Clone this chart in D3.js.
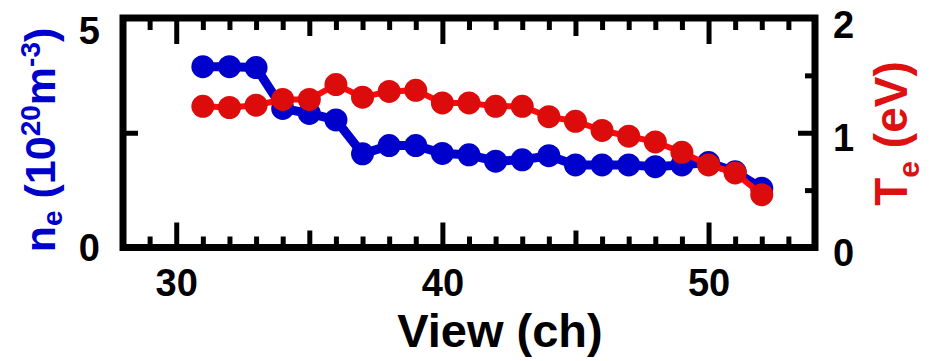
<!DOCTYPE html>
<html>
<head>
<meta charset="utf-8">
<script src="https://cdn.jsdelivr.net/npm/d3@7/dist/d3.min.js"></script>
<style>
  html, body { margin: 0; padding: 0; background: #fff; }
  svg { display: block; font-family: "Liberation Sans", Arial, sans-serif; font-weight: bold; }
</style>
</head>
<body>
<svg id="chart" width="930" height="361"></svg>
<script>
// Viewing channels
const channels = [31, 32, 33, 34, 35, 36, 37, 38, 39, 40, 41, 42, 43, 44, 45, 46, 47, 48, 49, 50, 51, 52];
// Electron density (10^20 m^-3)
const neValues = [3.94, 3.94, 3.92, 3.03, 2.92, 2.78, 2.04, 2.22, 2.22, 2.05, 2.02, 1.88, 1.91, 2.00, 1.80, 1.80, 1.80, 1.76, 1.80, 1.85, 1.65, 1.29];
// Electron temperature (eV)
const teValues = [1.23, 1.22, 1.24, 1.29, 1.29, 1.42, 1.31, 1.36, 1.37, 1.26, 1.26, 1.23, 1.23, 1.14, 1.10, 1.02, 0.97, 0.92, 0.83, 0.72, 0.65, 0.46];

// Axis tick values and labels
const xMajorTicks = [30, 40, 50];
const xMidTicks = [35, 45];
const xMinorTicks = d3.range(29, 54).filter(v => v % 5 !== 0);
const neLabelTicks = [0, 5];
const neMidTicks = [2.5];
const teLabelTicks = [0, 1, 2];
const teMajorTicks = [1];
const teMinorTicks = [0.5, 1.5];

const svg = d3.select("#chart");
const plotLeft = 123, plotRight = 815, plotTop = 18, plotBottom = 247.5;

const x = d3.scaleLinear().domain([28, 54]).range([plotLeft, plotRight]);
const yNe = d3.scaleLinear().domain([0, 5]).range([plotBottom, plotTop]);
const yTe = d3.scaleLinear().domain([0, 2]).range([plotBottom, plotTop]);

const blue = "#0000cc";
const redMark = "#dd0c0c";
const redLine = "#ff0a0a";
const fontFamily = "'Liberation Sans', Arial, sans-serif";

function styleTicks(g, w) {
  g.select(".domain").remove();
  g.selectAll(".tick line").attr("stroke", "#000").attr("stroke-width", w);
}
function styleLabels(g) {
  g.select(".domain").remove();
  g.selectAll(".tick text").attr("font-size", 38).attr("font-weight", "bold")
    .attr("font-family", fontFamily).attr("fill", "#000");
}

// Bottom and top axes: minor, mid and major ticks pointing inward
[[xMinorTicks, 11], [xMidTicks, 17], [xMajorTicks, 25]].forEach(([vals, len]) => {
  svg.append("g").attr("transform", `translate(0,${plotBottom})`)
    .call(d3.axisBottom(x).tickValues(vals).tickSize(-len).tickFormat(""))
    .call(g => styleTicks(g, 5));
  svg.append("g").attr("transform", `translate(0,${plotTop})`)
    .call(d3.axisTop(x).tickValues(vals).tickSize(-len - 1).tickFormat(""))
    .call(g => styleTicks(g, 5));
});

// Bottom tick labels
svg.append("g").attr("transform", `translate(0,${plotBottom})`)
  .call(d3.axisBottom(x).tickValues(xMajorTicks).tickSize(0).tickPadding(22).tickFormat(d3.format("d")))
  .call(styleLabels);

// Left axis (density)
svg.append("g").attr("transform", `translate(${plotLeft},0)`)
  .call(d3.axisLeft(yNe).tickValues(neMidTicks).tickSize(-15).tickFormat(""))
  .call(g => styleTicks(g, 5));
svg.append("g").attr("transform", `translate(${plotLeft},0)`)
  .call(d3.axisLeft(yNe).tickValues(neLabelTicks).tickSize(0).tickPadding(23).tickFormat(d3.format("d")))
  .call(styleLabels)
  .call(g => g.selectAll(".tick text").attr("dy", d => d === 5 ? "0.67em" : "0.35em"));

// Right axis (temperature)
[[teMinorTicks, 10], [teMajorTicks, 17]].forEach(([vals, len]) => {
  svg.append("g").attr("transform", `translate(${plotRight},0)`)
    .call(d3.axisRight(yTe).tickValues(vals).tickSize(-len).tickFormat(""))
    .call(g => styleTicks(g, 5));
});
svg.append("g").attr("transform", `translate(${plotRight},0)`)
  .call(d3.axisRight(yTe).tickValues(teLabelTicks).tickSize(0).tickPadding(18).tickFormat(d3.format("d")))
  .call(styleLabels)
  .call(g => g.selectAll(".tick text").attr("dy", d => d === 2 ? "0.5em" : "0.47em"));

// Plot frame
svg.append("rect")
  .attr("x", plotLeft).attr("y", plotTop)
  .attr("width", plotRight - plotLeft).attr("height", plotBottom - plotTop)
  .attr("fill", "none").attr("stroke", "#000").attr("stroke-width", 7);

// Density series
const neData = channels.map((c, i) => [c, neValues[i]]);
svg.append("path")
  .datum(neData)
  .attr("fill", "none").attr("stroke", blue).attr("stroke-width", 9)
  .attr("stroke-linejoin", "round")
  .attr("d", d3.line().x(d => x(d[0])).y(d => yNe(d[1])));
svg.append("g").selectAll("circle").data(neData).join("circle")
  .attr("cx", d => x(d[0])).attr("cy", d => yNe(d[1])).attr("r", 11.5)
  .attr("fill", blue);

// Temperature series
const teData = channels.map((c, i) => [c, teValues[i]]);
svg.append("path")
  .datum(teData)
  .attr("fill", "none").attr("stroke", redLine).attr("stroke-width", 6)
  .attr("stroke-linejoin", "round")
  .attr("d", d3.line().x(d => x(d[0])).y(d => yTe(d[1])));
svg.append("g").selectAll("circle").data(teData).join("circle")
  .attr("cx", d => x(d[0])).attr("cy", d => yTe(d[1])).attr("r", 11.5)
  .attr("fill", redMark);

// Axis titles
svg.append("text")
  .attr("x", 500).attr("y", 347)
  .attr("text-anchor", "middle").attr("font-size", 47).attr("fill", "#000")
  .text("View (ch)");

const neTitle = svg.append("text")
  .attr("transform", "translate(55,140) rotate(-90)")
  .attr("text-anchor", "middle").attr("font-size", 43).attr("fill", blue);
neTitle.append("tspan").text("n");
neTitle.append("tspan").attr("font-size", 28).attr("baseline-shift", -7).text("e");
neTitle.append("tspan").text(" (10");
neTitle.append("tspan").attr("font-size", 28).attr("baseline-shift", 15).text("20");
neTitle.append("tspan").text("m");
neTitle.append("tspan").attr("font-size", 28).attr("baseline-shift", 15).text("-3");
neTitle.append("tspan").text(")");

const teTitle = svg.append("text")
  .attr("transform", "translate(907,133.5) rotate(-90)")
  .attr("text-anchor", "middle").attr("font-size", 46).attr("fill", "#dd1111");
teTitle.append("tspan").text("T");
teTitle.append("tspan").attr("font-size", 30).attr("baseline-shift", -12).text("e");
teTitle.append("tspan").text(" (eV)");
</script>
</body>
</html>
